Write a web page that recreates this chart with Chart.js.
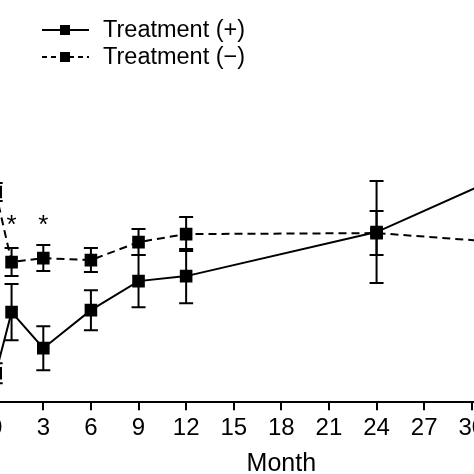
<!DOCTYPE html>
<html>
<head>
<meta charset="utf-8">
<script src="https://cdn.jsdelivr.net/npm/chart.js@4.4.0/dist/chart.umd.min.js"></script>
<style>
  html, body { margin: 0; padding: 0; background: #fff; overflow: hidden; width: 474px; height: 474px; }
  #wrap { position: absolute; left: -5px; top: 0; width: 600px; height: 479px; }
</style>
</head>
<body>
<div id="wrap"><canvas id="chart" width="600" height="479"></canvas></div>
<script>
// months of follow-up
const months = [0, 1, 3, 6, 9, 12, 24, 36];
// Treatment (+)
const plusMean = [14.5, 45, 27, 46, 60.5, 63, 85, 127.5];
const plusErr = [5, 14, 11, 10, 13, 13.5, 25.5, 25];
// Treatment (-)
const minusMean = [105, 70, 72, 71, 80, 84, 84.5, 77.5];
const minusErr = [4.5, 7, 6.5, 6, 6.5, 8.5, 11, 11];
// significance marks
const starMonths = [1, 3];
const starLevel = 91;
const xTicks = [0, 3, 6, 9, 12, 15, 18, 21, 24, 27, 30, 33, 36];

const FONT = '"Liberation Sans", Arial, Helvetica, sans-serif';
const OFFSET_X = 5; // canvas is shifted left by this much

const toPoints = (ys) => ys.map((y, i) => ({ x: months[i], y: y }));

// error bars + asterisks, drawn through the chart scales
const errorBars = {
  id: 'errorBars',
  beforeDatasetsDraw(chart) {
    const { ctx, scales: { x, y } } = chart;
    const sets = [[plusMean, plusErr], [minusMean, minusErr]];
    ctx.save();
    ctx.strokeStyle = '#000';
    ctx.lineWidth = 2;
    ctx.setLineDash([]);
    sets.forEach(([mean, err]) => {
      mean.forEach((m, i) => {
        const px = x.getPixelForValue(months[i]);
        const top = y.getPixelForValue(m + err[i]);
        const bot = y.getPixelForValue(m - err[i]);
        ctx.beginPath();
        ctx.moveTo(px, top); ctx.lineTo(px, bot);
        ctx.moveTo(px - 7, top); ctx.lineTo(px + 7, top);
        ctx.moveTo(px - 7, bot); ctx.lineTo(px + 7, bot);
        ctx.stroke();
      });
    });
    ctx.fillStyle = '#000';
    ctx.font = '26px ' + FONT;
    ctx.textAlign = 'center';
    ctx.textBaseline = 'middle';
    starMonths.forEach(mo => {
      ctx.fillText('*', x.getPixelForValue(mo), y.getPixelForValue(starLevel) + 6);
    });
    ctx.restore();
  }
};

// legend: line sample with square marker
const legendBox = {
  id: 'legendBox',
  afterDraw(chart) {
    const ctx = chart.ctx;
    const items = [
      { label: 'Treatment (+)', dash: [], y: 30 },
      { label: 'Treatment (\u2212)', dash: [5, 4], y: 57 }
    ];
    ctx.save();
    items.forEach(it => {
      ctx.strokeStyle = '#000';
      ctx.lineWidth = 2;
      ctx.setLineDash(it.dash);
      ctx.beginPath();
      ctx.moveTo(42 + OFFSET_X, it.y); ctx.lineTo(89 + OFFSET_X, it.y);
      ctx.stroke();
      ctx.setLineDash([]);
      ctx.fillStyle = '#000';
      ctx.fillRect(60 + OFFSET_X, it.y - 5, 10, 10);
      ctx.font = '23.5px ' + FONT;
      ctx.textAlign = 'left';
      ctx.textBaseline = 'middle';
      ctx.fillText(it.label, 103 + OFFSET_X, it.y + 1);
    });
    ctx.restore();
  }
};

new Chart(document.getElementById('chart'), {
  type: 'line',
  data: {
    datasets: [
      {
        label: 'Treatment (+)',
        data: toPoints(plusMean),
        borderColor: '#000',
        backgroundColor: '#000',
        borderWidth: 2,
        pointStyle: 'rect',
        pointRadius: 7.5,
        tension: 0
      },
      {
        label: 'Treatment (\u2212)',
        data: toPoints(minusMean),
        borderColor: '#000',
        backgroundColor: '#000',
        borderWidth: 2,
        borderDash: [8, 5],
        pointStyle: 'rect',
        pointRadius: 7.5,
        tension: 0
      }
    ]
  },
  options: {
    responsive: false,
    animation: false,
    layout: { autoPadding: false, padding: { left: 0.7, right: 28, top: 102, bottom: 0 } },
    plugins: { legend: { display: false }, tooltip: { enabled: false } },
    scales: {
      x: {
        type: 'linear',
        min: 0,
        max: 36,
        afterBuildTicks: (axis) => { axis.ticks = xTicks.map(v => ({ value: v })); },
        afterFit: (axis) => { axis.paddingLeft = 0; axis.paddingRight = 0; },
        ticks: { color: '#000', font: { family: FONT, size: 24 }, padding: 4, maxRotation: 0, autoSkip: false },
        grid: { drawOnChartArea: false, drawTicks: true, tickLength: 8, color: '#000', lineWidth: 2 },
        border: { color: '#000', width: 2 },
        title: { display: true, text: 'Month', color: '#000', font: { family: FONT, size: 25 }, padding: { top: 2, bottom: 0 } }
      },
      y: {
        display: false,
        min: 0,
        max: 150
      }
    }
  },
  plugins: [errorBars, legendBox]
});
</script>
</body>
</html>
